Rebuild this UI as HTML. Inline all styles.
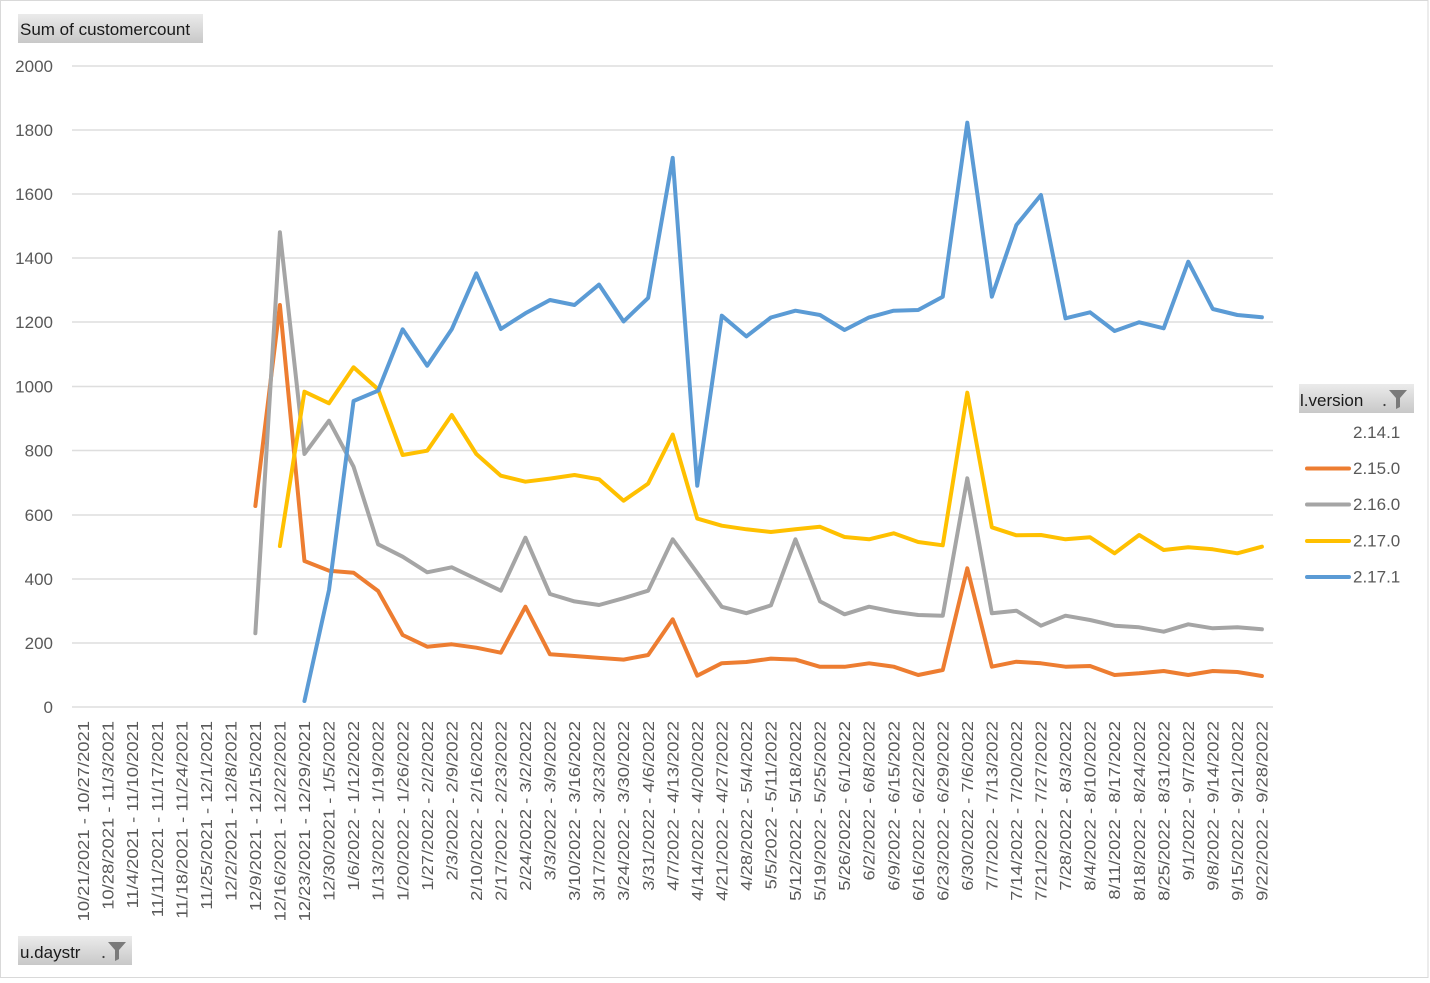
<!DOCTYPE html>
<html>
<head>
<meta charset="utf-8">
<style>
html,body{margin:0;padding:0;background:#fff;}
body{width:1430px;height:983px;overflow:hidden;}
svg{display:block;font-family:"Liberation Sans",sans-serif;}
</style>
</head>
<body>
<svg width="1430" height="983" viewBox="0 0 1430 983" xmlns="http://www.w3.org/2000/svg">
<defs>
<linearGradient id="btn" x1="0" y1="0" x2="0" y2="1">
<stop offset="0" stop-color="#ebebeb"/>
<stop offset="1" stop-color="#c8c8c8"/>
</linearGradient>
</defs>
<rect x="0" y="0" width="1430" height="983" fill="#fff"/>
<rect x="0.5" y="0.5" width="1427.5" height="977" fill="none" stroke="#d9d9d9" stroke-width="1"/>

<!-- title button -->
<rect x="18" y="14" width="185" height="29" fill="url(#btn)"/>
<text x="20" y="35" font-size="17" fill="#1a1a1a">Sum of customercount</text>

<!-- gridlines -->
<g stroke="#dedede" stroke-width="1.6">
<line x1="72" y1="66" x2="1273" y2="66"/>
<line x1="72" y1="130" x2="1273" y2="130"/>
<line x1="72" y1="194" x2="1273" y2="194"/>
<line x1="72" y1="258" x2="1273" y2="258"/>
<line x1="72" y1="322" x2="1273" y2="322"/>
<line x1="72" y1="386.5" x2="1273" y2="386.5"/>
<line x1="72" y1="450.5" x2="1273" y2="450.5"/>
<line x1="72" y1="515" x2="1273" y2="515"/>
<line x1="72" y1="579" x2="1273" y2="579"/>
<line x1="72" y1="643" x2="1273" y2="643"/>
<line x1="72" y1="707" x2="1273" y2="707"/>
</g>

<!-- y labels -->
<g font-size="17" fill="#595959" text-anchor="end">
<text x="53" y="72">2000</text>
<text x="53" y="136">1800</text>
<text x="53" y="200">1600</text>
<text x="53" y="264">1400</text>
<text x="53" y="328">1200</text>
<text x="53" y="392.5">1000</text>
<text x="53" y="456.5">800</text>
<text x="53" y="521">600</text>
<text x="53" y="585">400</text>
<text x="53" y="649">200</text>
<text x="53" y="713">0</text>
</g>

<!-- series -->
<g fill="none" stroke-width="4" stroke-linejoin="round" stroke-linecap="round">
<polyline stroke="#ED7D31" points="255.35,506 279.9,305 304.45,561 329,570.7 353.55,572.7 378.1,591 402.65,635 427.2,646.7 451.75,644.3 476.3,647.7 500.85,652.7 525.4,606.7 549.95,654.3 574.5,656 599.05,657.9 623.6,659.6 648.15,655 672.7,619.3 697.25,675.7 721.8,663.2 746.35,662 770.9,658.6 795.45,659.6 820,666.8 844.55,666.8 869.1,663.3 893.65,666.7 918.2,675 942.75,670 967.3,568.3 991.85,666.7 1016.4,661.7 1040.95,663.3 1065.5,666.7 1090.05,666 1114.6,675 1139.15,673.3 1163.7,671 1188.25,675 1212.8,671 1237.35,672 1261.9,676"/>
<polyline stroke="#A5A5A5" points="255.35,633.3 279.9,232.3 304.45,454 329,420.7 353.55,466.7 378.1,544.3 402.65,556.7 427.2,572.3 451.75,567.3 476.3,579 500.85,590.7 525.4,537.7 549.95,594 574.5,601.4 599.05,605 623.6,598.2 648.15,590.7 672.7,539.3 697.25,572.9 721.8,606.8 746.35,613.2 770.9,605.4 795.45,539.3 820,601.4 844.55,614.3 869.1,606.7 893.65,611.7 918.2,615 942.75,615.7 967.3,478.3 991.85,613.3 1016.4,610.7 1040.95,625.7 1065.5,615.7 1090.05,620 1114.6,625.7 1139.15,627.3 1163.7,631.7 1188.25,624.3 1212.8,628.3 1237.35,627.3 1261.9,629.3"/>
<polyline stroke="#FFC000" points="279.9,546 304.45,391.7 329,403.3 353.55,367.3 378.1,389.3 402.65,455 427.2,450.7 451.75,415 476.3,454 500.85,475.7 525.4,481.7 549.95,478.6 574.5,475 599.05,479.3 623.6,500.7 648.15,483.6 672.7,434.6 697.25,518.6 721.8,525.7 746.35,529.3 770.9,532 795.45,529.3 820,526.8 844.55,537 869.1,539.3 893.65,533.3 918.2,542 942.75,545.3 967.3,392.7 991.85,527.3 1016.4,535.3 1040.95,535 1065.5,539.3 1090.05,537.3 1114.6,553.3 1139.15,535 1163.7,550 1188.25,547.3 1212.8,549.3 1237.35,553.3 1261.9,546.7"/>
<polyline stroke="#5B9BD5" points="304.45,701 329,590 353.55,401 378.1,390.7 402.65,329.3 427.2,365.7 451.75,329.3 476.3,273.3 500.85,329 525.4,313.3 549.95,300 574.5,305 599.05,284.6 623.6,321.4 648.15,297.9 672.7,157.9 697.25,485.7 721.8,315.7 746.35,336.4 770.9,317.5 795.45,310.7 820,315 844.55,330 869.1,317.4 893.65,310.7 918.2,310 942.75,296.7 967.3,122.7 991.85,296.7 1016.4,225 1040.95,195 1065.5,318.3 1090.05,312.3 1114.6,331 1139.15,322.3 1163.7,328.3 1188.25,261.7 1212.8,309 1237.35,315 1261.9,317.3"/>
</g>

<!-- x labels -->
<g font-size="18.4" fill="#595959" text-anchor="end">
<text transform="translate(89.1,721) rotate(-90) scale(1,0.85)">10/21/2021 - 10/27/2021</text>
<text transform="translate(113.65,721) rotate(-90) scale(1,0.85)">10/28/2021 - 11/3/2021</text>
<text transform="translate(138.2,721) rotate(-90) scale(1,0.85)">11/4/2021 - 11/10/2021</text>
<text transform="translate(162.75,721) rotate(-90) scale(1,0.85)">11/11/2021 - 11/17/2021</text>
<text transform="translate(187.3,721) rotate(-90) scale(1,0.85)">11/18/2021 - 11/24/2021</text>
<text transform="translate(211.85,721) rotate(-90) scale(1,0.85)">11/25/2021 - 12/1/2021</text>
<text transform="translate(236.4,721) rotate(-90) scale(1,0.85)">12/2/2021 - 12/8/2021</text>
<text transform="translate(260.95,721) rotate(-90) scale(1,0.85)">12/9/2021 - 12/15/2021</text>
<text transform="translate(285.5,721) rotate(-90) scale(1,0.85)">12/16/2021 - 12/22/2021</text>
<text transform="translate(310.05,721) rotate(-90) scale(1,0.85)">12/23/2021 - 12/29/2021</text>
<text transform="translate(334.6,721) rotate(-90) scale(1,0.85)">12/30/2021 - 1/5/2022</text>
<text transform="translate(359.15,721) rotate(-90) scale(1,0.85)">1/6/2022 - 1/12/2022</text>
<text transform="translate(383.7,721) rotate(-90) scale(1,0.85)">1/13/2022 - 1/19/2022</text>
<text transform="translate(408.25,721) rotate(-90) scale(1,0.85)">1/20/2022 - 1/26/2022</text>
<text transform="translate(432.8,721) rotate(-90) scale(1,0.85)">1/27/2022 - 2/2/2022</text>
<text transform="translate(457.35,721) rotate(-90) scale(1,0.85)">2/3/2022 - 2/9/2022</text>
<text transform="translate(481.9,721) rotate(-90) scale(1,0.85)">2/10/2022 - 2/16/2022</text>
<text transform="translate(506.45,721) rotate(-90) scale(1,0.85)">2/17/2022 - 2/23/2022</text>
<text transform="translate(531,721) rotate(-90) scale(1,0.85)">2/24/2022 - 3/2/2022</text>
<text transform="translate(555.55,721) rotate(-90) scale(1,0.85)">3/3/2022 - 3/9/2022</text>
<text transform="translate(580.1,721) rotate(-90) scale(1,0.85)">3/10/2022 - 3/16/2022</text>
<text transform="translate(604.65,721) rotate(-90) scale(1,0.85)">3/17/2022 - 3/23/2022</text>
<text transform="translate(629.2,721) rotate(-90) scale(1,0.85)">3/24/2022 - 3/30/2022</text>
<text transform="translate(653.75,721) rotate(-90) scale(1,0.85)">3/31/2022 - 4/6/2022</text>
<text transform="translate(678.3,721) rotate(-90) scale(1,0.85)">4/7/2022 - 4/13/2022</text>
<text transform="translate(702.85,721) rotate(-90) scale(1,0.85)">4/14/2022 - 4/20/2022</text>
<text transform="translate(727.4,721) rotate(-90) scale(1,0.85)">4/21/2022 - 4/27/2022</text>
<text transform="translate(751.95,721) rotate(-90) scale(1,0.85)">4/28/2022 - 5/4/2022</text>
<text transform="translate(776.5,721) rotate(-90) scale(1,0.85)">5/5/2022 - 5/11/2022</text>
<text transform="translate(801.05,721) rotate(-90) scale(1,0.85)">5/12/2022 - 5/18/2022</text>
<text transform="translate(825.6,721) rotate(-90) scale(1,0.85)">5/19/2022 - 5/25/2022</text>
<text transform="translate(850.15,721) rotate(-90) scale(1,0.85)">5/26/2022 - 6/1/2022</text>
<text transform="translate(874.7,721) rotate(-90) scale(1,0.85)">6/2/2022 - 6/8/2022</text>
<text transform="translate(899.25,721) rotate(-90) scale(1,0.85)">6/9/2022 - 6/15/2022</text>
<text transform="translate(923.8,721) rotate(-90) scale(1,0.85)">6/16/2022 - 6/22/2022</text>
<text transform="translate(948.35,721) rotate(-90) scale(1,0.85)">6/23/2022 - 6/29/2022</text>
<text transform="translate(972.9,721) rotate(-90) scale(1,0.85)">6/30/2022 - 7/6/2022</text>
<text transform="translate(997.45,721) rotate(-90) scale(1,0.85)">7/7/2022 - 7/13/2022</text>
<text transform="translate(1022,721) rotate(-90) scale(1,0.85)">7/14/2022 - 7/20/2022</text>
<text transform="translate(1046.55,721) rotate(-90) scale(1,0.85)">7/21/2022 - 7/27/2022</text>
<text transform="translate(1071.1,721) rotate(-90) scale(1,0.85)">7/28/2022 - 8/3/2022</text>
<text transform="translate(1095.65,721) rotate(-90) scale(1,0.85)">8/4/2022 - 8/10/2022</text>
<text transform="translate(1120.2,721) rotate(-90) scale(1,0.85)">8/11/2022 - 8/17/2022</text>
<text transform="translate(1144.75,721) rotate(-90) scale(1,0.85)">8/18/2022 - 8/24/2022</text>
<text transform="translate(1169.3,721) rotate(-90) scale(1,0.85)">8/25/2022 - 8/31/2022</text>
<text transform="translate(1193.85,721) rotate(-90) scale(1,0.85)">9/1/2022 - 9/7/2022</text>
<text transform="translate(1218.4,721) rotate(-90) scale(1,0.85)">9/8/2022 - 9/14/2022</text>
<text transform="translate(1242.95,721) rotate(-90) scale(1,0.85)">9/15/2022 - 9/21/2022</text>
<text transform="translate(1267.5,721) rotate(-90) scale(1,0.85)">9/22/2022 - 9/28/2022</text>
</g>

<!-- legend -->
<rect x="1299" y="384" width="115" height="29" fill="url(#btn)"/>
<text x="1300" y="406" font-size="17" fill="#1a1a1a">l.version</text>
<circle cx="1384.5" cy="405" r="1.1" fill="#404040"/>
<polygon points="1389,390 1407,390 1400,398 1400,407 1396,409 1396,398" fill="#7a7a7a"/>
<g font-size="17" fill="#595959">
<text x="1353" y="438">2.14.1</text>
<text x="1353" y="474">2.15.0</text>
<text x="1353" y="510">2.16.0</text>
<text x="1353" y="546.5">2.17.0</text>
<text x="1353" y="582.5">2.17.1</text>
</g>
<g stroke-width="4" stroke-linecap="round">
<line x1="1307" y1="468.5" x2="1349" y2="468.5" stroke="#ED7D31"/>
<line x1="1307" y1="504.5" x2="1349" y2="504.5" stroke="#A5A5A5"/>
<line x1="1307" y1="541" x2="1349" y2="541" stroke="#FFC000"/>
<line x1="1307" y1="577" x2="1349" y2="577" stroke="#5B9BD5"/>
</g>

<!-- bottom field button -->
<rect x="18" y="936" width="114" height="29" fill="url(#btn)"/>
<text x="20" y="958" font-size="17" fill="#1a1a1a">u.daystr</text>
<circle cx="103.5" cy="957" r="1.1" fill="#404040"/>
<polygon points="108,942 126,942 119,950 119,959 115,961 115,950" fill="#7a7a7a"/>
</svg>
</body>
</html>
